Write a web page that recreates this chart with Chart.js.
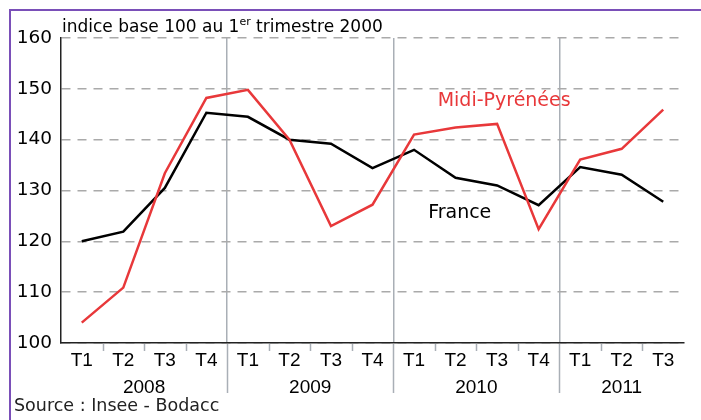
<!DOCTYPE html>
<html>
<head>
<meta charset="utf-8">
<script src="https://cdn.jsdelivr.net/npm/chart.js@4.4.1/dist/chart.umd.min.js"></script>
<style>
  body { margin: 0; background: #fff; }
  canvas { display: block; }
</style>
</head>
<body>
<canvas id="lineChart" width="701" height="420"></canvas>
<script>
var quarters = ['T1', 'T2', 'T3', 'T4', 'T1', 'T2', 'T3', 'T4', 'T1', 'T2', 'T3', 'T4', 'T1', 'T2', 'T3'];
var years = ['2008', '2009', '2010', '2011'];
var yTicks = [100, 110, 120, 130, 140, 150, 160];

// indice base 100 au 1er trimestre 2000
var franceData = [120, 121.9, 130.5, 145.3, 144.5, 140, 139.2, 134.4, 138, 132.5, 131, 127.1, 134.6, 133.1, 127.8];
var midiPyreneesData = [104, 110.9, 133.4, 148.2, 149.8, 140, 123, 127.2, 141, 142.4, 143.1, 122.4, 136.1, 138.2, 145.9];

var red = '#e8383a';
var sepColor = '#a9afb6';
var narrow = "'Liberation Sans Narrow', 'Liberation Sans', Arial, sans-serif";
var verdana = "'DejaVu Sans', Verdana, sans-serif";

// frame, title, year labels, series names, source
var decorations = {
  id: 'decorations',
  beforeDraw: function(chart) {
    var ctx = chart.ctx;
    ctx.save();
    ctx.fillStyle = '#fff';
    ctx.fillRect(0, 0, chart.width, chart.height);
    ctx.strokeStyle = '#7a4fb8';
    ctx.lineWidth = 2;
    ctx.beginPath();
    ctx.moveTo(10, chart.height);
    ctx.lineTo(10, 10);
    ctx.lineTo(chart.width, 10);
    ctx.stroke();
    ctx.restore();
  },
  afterDraw: function(chart) {
    var ctx = chart.ctx;
    var x = chart.scales.x;
    var y = chart.scales.y;
    var area = chart.chartArea;
    var half = (x.getPixelForValue(1) - x.getPixelForValue(0)) / 2;
    ctx.save();

    // small ticks and year separators under the axis
    ctx.lineWidth = 1.5;
    ctx.strokeStyle = sepColor;
    for (var i = 1; i < quarters.length; i++) {
      var px = Math.round(x.getPixelForValue(i) - half) + 0.5;
      ctx.beginPath();
      ctx.moveTo(px, area.bottom + 1);
      ctx.lineTo(px, i % 4 === 0 ? 393 : 351);
      ctx.stroke();
    }

    // year labels centred under their quarters
    ctx.fillStyle = '#000';
    ctx.font = '19px ' + narrow;
    ctx.textAlign = 'center';
    ctx.textBaseline = 'middle';
    years.forEach(function(yr, k) {
      var first = k * 4;
      var last = Math.min(first + 3, quarters.length - 1);
      var cx = (x.getPixelForValue(first) + x.getPixelForValue(last)) / 2;
      ctx.fillText(yr, cx, 388);
    });

    // title with superscript
    ctx.textAlign = 'left';
    ctx.textBaseline = 'alphabetic';
    ctx.font = '17px ' + verdana;
    var tx = 62, ty = 32;
    var part1 = 'indice base 100 au 1';
    ctx.fillText(part1, tx, ty);
    tx += ctx.measureText(part1).width;
    ctx.font = '11px ' + verdana;
    ctx.fillText('er', tx, ty - 7);
    tx += ctx.measureText('er').width;
    ctx.font = '17px ' + verdana;
    ctx.fillText(' trimestre 2000', tx, ty);

    // series names
    ctx.textAlign = 'center';
    ctx.textBaseline = 'middle';
    ctx.font = '19px ' + verdana;
    ctx.fillStyle = red;
    ctx.fillText('Midi-Pyrénées', x.getPixelForValue(10.17), y.getPixelForValue(147.6));
    ctx.fillStyle = '#000';
    ctx.fillText('France', x.getPixelForValue(9.1), y.getPixelForValue(125.6));

    // source
    ctx.textAlign = 'left';
    ctx.font = '17.5px ' + verdana;
    ctx.fillStyle = '#222';
    ctx.fillText('Source : Insee - Bodacc', 14, 406);
    ctx.restore();
  }
};

window.onload = function() {
  new Chart(document.getElementById('lineChart'), {
    type: 'line',
    data: {
      labels: quarters,
      datasets: [
        {
          label: 'Midi-Pyrénées',
          data: midiPyreneesData,
          borderColor: red,
          borderWidth: 2.5,
          pointRadius: 0,
          tension: 0,
          fill: false
        },
        {
          label: 'France',
          data: franceData,
          borderColor: '#000',
          borderWidth: 2.5,
          pointRadius: 0,
          tension: 0,
          fill: false
        }
      ]
    },
    options: {
      responsive: false,
      animation: false,
      layout: { padding: { top: 38, right: 17, bottom: 53, left: 0 } },
      plugins: {
        legend: { display: false },
        title: { display: false },
        tooltip: { enabled: false }
      },
      scales: {
        x: {
          offset: true,
          afterFit: function(scale) { scale.height = 24; },
          grid: {
            offset: true,
            drawTicks: false,
            lineWidth: 1.5,
            color: function(c) {
              return (c.index % 4 === 0 && c.index > 0 && c.index < quarters.length) ? sepColor : 'rgba(0,0,0,0)';
            }
          },
          border: { color: '#222', width: 1.5 },
          ticks: {
            padding: 6,
            maxRotation: 0,
            autoSkip: false,
            color: '#000',
            font: { family: narrow, size: 19 }
          }
        },
        y: {
          min: 100,
          max: 160,
          afterFit: function(scale) { scale.width = 61; },
          afterBuildTicks: function(scale) {
            scale.ticks = yTicks.map(function(v) { return { value: v }; });
          },
          grid: {
            drawTicks: false,
            color: '#aaaaaa',
            lineWidth: 1.5
          },
          border: { color: '#222', width: 1.5, dash: [9, 7] },
          ticks: {
            padding: 9,
            color: '#000',
            font: { family: verdana, size: 18.5 }
          }
        }
      }
    },
    plugins: [decorations]
  });
};
</script>
</body>
</html>
